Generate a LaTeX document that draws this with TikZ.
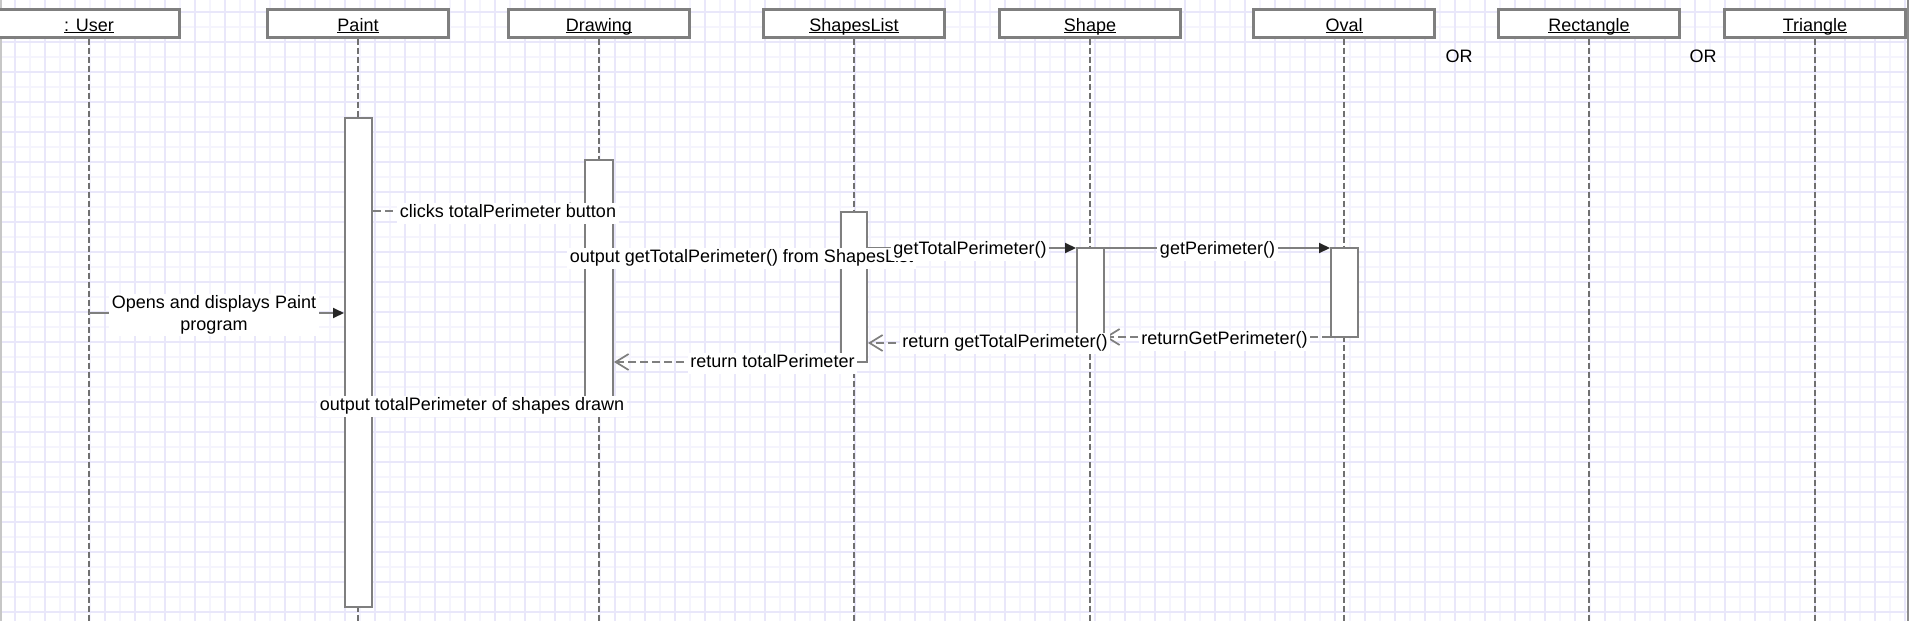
\documentclass[tikz,border=0pt]{standalone}
\usepackage{fontspec}
\setmainfont{Liberation Sans}
\usetikzlibrary{arrows.meta}
\definecolor{linegray}{HTML}{7F7F7F}
\definecolor{lifegray}{HTML}{707070}
\definecolor{gridmaj}{HTML}{E9E7FA}
\definecolor{gridmin}{HTML}{F5F4FD}
\newcommand\uln[1]{\setbox0\hbox{#1}\rlap{\rule[-2.4pt]{\wd0}{1.1pt}}\box0}
\tikzset{
  hdr/.style={draw=linegray, line width=2.2pt, fill=white, minimum width=181pt,
    minimum height=28pt, inner sep=0pt, text height=17pt, text depth=2pt,
    font=\fontsize{18}{22}\selectfont},
  life/.style={draw=lifegray, line width=2pt, dash pattern=on 6pt off 3pt},
  act/.style={draw=linegray, line width=2pt, fill=white, inner sep=0pt},
  lbl/.style={fill=white, inner xsep=2.5pt, inner ysep=2pt, text height=13pt,
    text depth=4pt, font=\fontsize{18}{22}\selectfont},
  lbltwo/.style={fill=white, inner xsep=2.5pt, inner ysep=2pt, align=center,
    font=\fontsize{18}{22}\selectfont},
  plain/.style={font=\fontsize{18}{22}\selectfont, inner sep=0pt},
  call/.style={draw=linegray, line width=2pt,
    -{Triangle[length=11pt,width=10pt,color=black!85]}},
  ret/.style={draw=linegray, line width=2pt, dash pattern=on 8pt off 4pt,
    -{Straight Barb[length=13pt,width=16pt,line width=1.7pt]}},
}
\begin{document}
\begin{tikzpicture}[x=1pt,y=-1pt]
\useasboundingbox (0,0) rectangle (1909,621);
\fill[white] (0,0) rectangle (1909,621);
% grid
\foreach \yy in {27,57,...,612} \draw[gridmin, line width=1.3pt] (0,\yy) -- (1909,\yy);
\foreach \xx in {0,30,...,1905} \draw[gridmin, line width=1.3pt] (\xx,0) -- (\xx,621);
\foreach \yy in {12,42,...,612} \draw[gridmaj, line width=1.6pt] (0,\yy) -- (1909,\yy);
\foreach \xx in {15,45,...,1905} \draw[gridmaj, line width=1.6pt] (\xx,0) -- (\xx,621);
\fill[black!22] (0,0) rectangle (2,621);
\fill[black!45] (1906.5,0) rectangle (1909,621);

% headers
\node[hdr] (hUser) at (89,23.5) {\uln{: User}};
\node[hdr] (hPaint) at (358,23.5) {\uln{Paint}};
\node[hdr] (hDrawing) at (599,23.5) {\uln{Drawing}};
\node[hdr] (hShapesList) at (854,23.5) {\uln{ShapesList}};
\node[hdr] (hShape) at (1090,23.5) {\uln{Shape}};
\node[hdr] (hOval) at (1344,23.5) {\uln{Oval}};
\node[hdr] (hRect) at (1589,23.5) {\uln{Rectangle}};
\node[hdr] (hTri) at (1815,23.5) {\uln{Triangle}};
\node[plain] (or1) at (1459,56) {OR};
\node[plain] (or2) at (1703,56) {OR};

% lifelines
\foreach \h in {hUser,hPaint,hDrawing,hShapesList,hShape,hOval,hRect,hTri}
  \draw[life] (\h.south) -- (\h.south |- 0,621);

% activations
\node[act, minimum width=27pt, minimum height=489pt] (aPaint) at (358.5,362.5) {};
\node[act, minimum width=28pt, minimum height=255pt] (aDrawing) at (599,287.5) {};
\node[act, minimum width=26pt, minimum height=150pt] (aShapesList) at (854,287) {};
\node[act, minimum width=27pt, minimum height=94pt] (aShape) at (1090.5,295) {};
\node[act, minimum width=27pt, minimum height=89pt] (aOval) at (1344.5,292.5) {};

% messages
\draw[call] (hUser.south |- 0,313) -- (aPaint.west |- 0,313);
\draw[ret] (aPaint.east |- 0,211) -- (aDrawing.west |- 0,211);
\draw[ret] (aShapesList.west |- 0,257) -- (aDrawing.east |- 0,257);
\draw[call] (aShapesList.east |- 0,248) -- (aShape.west |- 0,248);
\draw[call] (aShape.east |- 0,248) -- (aOval.west |- 0,248);
\draw[ret] (aOval.west |- 0,337) -- (aShape.east |- 0,337);
\draw[ret] (aShape.west |- 0,343) -- (aShapesList.east |- 0,343);
\draw[ret] (aShapesList.west |- 0,362) -- (aDrawing.east |- 0,362);
\draw[ret] (aDrawing.west |- 0,405) -- (aPaint.east |- 0,405);

% labels
\node[lbltwo] (lOpens) at (214,315) {Opens and displays Paint\\program};
\node[lbl] (lClicks) at (508,213) {clicks totalPerimeter button};
\node[lbl] (lOutGet) at (741.5,258) {output getTotalPerimeter() from ShapesList};
\node[lbl] (lGetTot) at (970,250) {getTotalPerimeter()};
\node[lbl] (lGetPer) at (1217.5,250) {getPerimeter()};
\node[lbl] (lRetGet) at (1224.5,340) {returnGetPerimeter()};
\node[lbl] (lRetTot) at (1005,343) {return getTotalPerimeter()};
\node[lbl] (lRetTP) at (772.5,363) {return totalPerimeter};
\node[lbl] (lOutTP) at (472,406) {output totalPerimeter of shapes drawn};
\end{tikzpicture}
\end{document}
